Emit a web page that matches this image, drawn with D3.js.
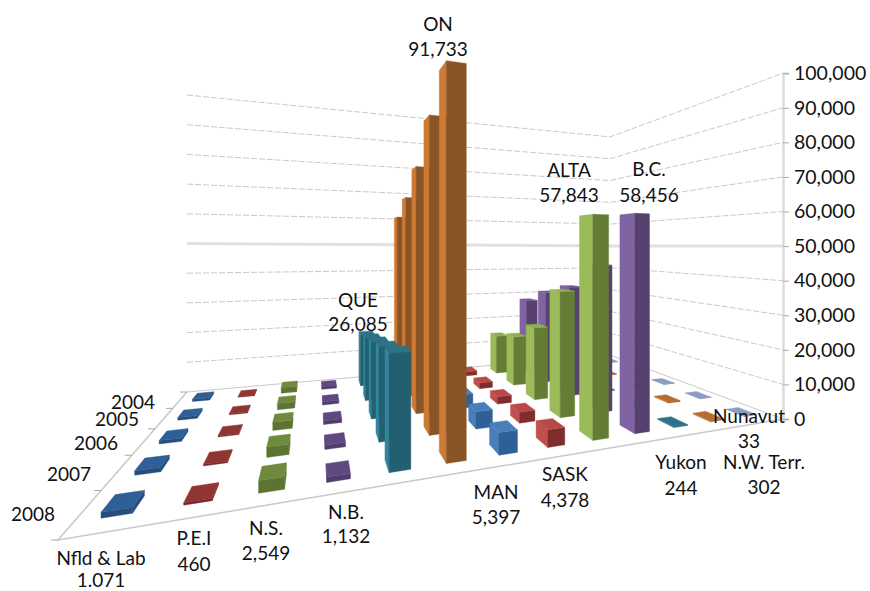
<!DOCTYPE html>
<html><head><meta charset="utf-8">
<script src="https://d3js.org/d3.v7.min.js"></script>
<style>html,body{margin:0;background:#fff}svg{display:block}text{font-family:Lato,"Open Sans",sans-serif;fill:#111}</style>
</head><body><svg id="c" width="870" height="591"></svg>
<script>
const categories=["Nfld & Lab","P.E.I","N.S.","N.B.","QUE","ON","MAN","SASK","ALTA","B.C.","Yukon","N.W. Terr.","Nunavut"];
const years=["2004","2005","2006","2007","2008"];
const v2004=[700,250,1900,1000,18000,60000,3400,1550,14400,27800,150,180,20];
const v2005=[750,300,1900,1000,20000,65500,3700,2000,17200,32600,170,200,22];
const v2006=[850,350,2200,1050,22000,73000,4100,2300,23200,36000,190,230,25];
const v2007=[950,400,2400,1100,24000,83800,4700,3100,36500,44000,220,270,28];
const v2008=[1071,460,2549,1132,26085,91733,5397,4378,57843,58456,244,302,33];
const series=[v2004,v2005,v2006,v2007,v2008];
const valueTicks=[0,10000,20000,30000,40000,50000,60000,70000,80000,90000,100000];
const labelLines=[["Nfld & Lab","1.071"],["P.E.I","460"],["N.S.","2,549"],["N.B.","1,132"],["QUE","26,085"],["ON","91,733"],["MAN","5,397"],["SASK","4,378"],["ALTA","57,843"],["B.C.","58,456"],["Yukon","244"],["N.W. Terr.","302"],["Nunavut","33"]];
const palette={
 blueD:{light:"#2f5f96",top:"#2f5f96",front:"#264d7c"},
 redD:{light:"#8f3432",top:"#8f3432",front:"#752c2b"},
 greenD:{light:"#6f8a3c",top:"#6f8a3c",front:"#5c7330"},
 purpleD:{light:"#5f4a80",top:"#5f4a80",front:"#4f3d6c"},
 teal:{light:"#31859c",top:"#2e7288",front:"#245f70"},
 orange:{light:"#cd7a33",top:"#b56e30",front:"#8a5526"},
 blue:{light:"#4a7ebb",top:"#4a7ebb",front:"#2f5f96"},
 red:{light:"#c0504d",top:"#b94a48",front:"#7f2f2e"},
 green:{light:"#9bbb59",top:"#8fb050",front:"#647d36"},
 purple:{light:"#8064a2",top:"#75599a",front:"#54406e"},
 slate:{light:"#8a9cc0",top:"#8a9cc0",front:"#7286ad"}
};
const catColors=["blueD","redD","greenD","purpleD","teal","orange","blue","red","green","purple","teal","orange","slate"];

// floor corners on the page: back-left, back-right, front-right, front-left
const B=[187,392],C=[610,355],D=[783,419],A=[58,540];
const det=(p,q)=>p[0]*q[1]-p[1]*q[0];
const d1=[C[0]-D[0],C[1]-D[1]],d2=[A[0]-D[0],A[1]-D[1]],s=[B[0]-C[0]+D[0]-A[0],B[1]-C[1]+D[1]-A[1]];
const g=det(s,d2)/det(d1,d2),h=det(d1,s)/det(d1,d2);
const m=[C[0]-B[0]+g*C[0],A[0]-B[0]+h*A[0],C[1]-B[1]+g*C[1],A[1]-B[1]+h*A[1]];

const uScale=d3.scaleBand(categories,[0,1]).paddingInner(.63).paddingOuter(.315);
const vScale=d3.scaleBand(years,[0,1]).paddingInner(.62).paddingOuter(.31);
const hScale=d3.scaleLinear([0,100000],[0,297]);
const project=(u,v,val)=>{const w=1+g*u+h*v;return [(m[0]*u+m[1]*v+B[0])/w,(m[2]*u+m[3]*v+B[1])/w-hScale(val)/w];};
const depth=(u,v)=>1+g*u+h*v;

const svg=d3.select("#c");
svg.append("defs").append("filter").attr("id","soft").append("feGaussianBlur").attr("stdDeviation",.45);
const path=d3.line();
const poly=pts=>path(pts)+"Z";
const visible=pts=>d3.polygonArea(pts)<0;

// walls
const walls=svg.append("g").attr("fill","none");
valueTicks.forEach(t=>{
 const pts=[project(0,0,t),project(1,0,t),project(1,1,t)];
 walls.append("path").attr("d",path(pts))
  .attr("stroke",t===50000?"#e0e0e0":"#cdc8c8").attr("stroke-width",t===50000?3:1)
  .attr("stroke-dasharray",t===50000||t===0?null:"6 2");
});
walls.append("path").attr("d",path([project(0,0,0),project(0,1,0),project(1,1,0)])).attr("stroke","#c8c8c8").attr("stroke-width",1.5);

// value axis
const yAxis=d3.scaleLinear([0,100000],[project(1,1,0)[1],project(1,1,100000)[1]]);
const ax=svg.append("g").attr("transform",`translate(${D[0]},0)`).call(d3.axisRight(yAxis).tickValues(valueTicks).tickFormat(d3.format(",")).tickSize(6).tickPadding(5));
ax.select(".domain").attr("stroke","#dcdcdc").attr("stroke-width",2.5);
ax.selectAll(".tick line").attr("stroke","#a8a8a8");
ax.selectAll("text").attr("font-size",19.5).attr("font-family",'Lato,"Open Sans",sans-serif').attr("fill","#111");

// year ticks and labels
const yearEdge=years.map((y,i)=>(i)/years.length).concat([1]);
yearEdge.forEach(v=>{const p=project(0,v,0);svg.append("line").attr("x1",p[0]-7).attr("x2",p[0]).attr("y1",p[1]).attr("y2",p[1]).attr("stroke","#a8a8a8");});
const yearLabelAt=[[133,401],[117,418],[96,442],[69,473],[33,513]];
years.forEach((y,i)=>svg.append("text").attr("x",yearLabelAt[i][0]).attr("y",yearLabelAt[i][1]).attr("text-anchor","middle").attr("dominant-baseline","central").attr("font-size",19).text(y));

// bars, painted far to near
const bars=[];
series.forEach((row,j)=>row.forEach((val,i)=>{
 const u0=uScale(categories[i]),u1=u0+uScale.bandwidth(),v0=vScale(years[j]),v1=v0+vScale.bandwidth();
 bars.push({i,j,val,u0,u1,v0,v1,d:depth((u0+u1)/2,(v0+v1)/2)});
}));
bars.sort((a,b)=>d3.descending(a.d,b.d));
const gBars=svg.append("g").attr("filter","url(#soft)");
bars.forEach(b=>{
 const c=palette[catColors[b.i]];
 const P=(u,v,t)=>project(u,v,t?b.val:0);
 const left=[P(b.u0,b.v1,0),P(b.u0,b.v0,0),P(b.u0,b.v0,1),P(b.u0,b.v1,1)];
 const right=[P(b.u1,b.v0,0),P(b.u1,b.v1,0),P(b.u1,b.v1,1),P(b.u1,b.v0,1)];
 const front=[P(b.u1,b.v1,0),P(b.u0,b.v1,0),P(b.u0,b.v1,1),P(b.u1,b.v1,1)];
 const top=[P(b.u0,b.v1,1),P(b.u0,b.v0,1),P(b.u1,b.v0,1),P(b.u1,b.v1,1)];
 const gb=gBars.append("g").attr("stroke-width",.4);
 [[left,c.light],[right,c.front],[front,c.front],[top,c.top]].forEach(([f,col])=>{
   if(visible(f)) gb.append("path").attr("d",poly(f)).attr("fill",col).attr("stroke",col);
 });
});

// data labels
const labelAt=[[101,557,579],[194,537,563],[266,527,552],[346,511,535],[358,299,323],[438,23,48],[496,491,516],[565,473,499],[569,169,194],[649,168,194],[681,461,487],[764,461,486],[749,415,440]];
labelLines.forEach((l,i)=>{
 [0,1].forEach(k=>svg.append("text").attr("x",labelAt[i][0]).attr("y",labelAt[i][k+1]).attr("text-anchor","middle").attr("dominant-baseline","central").attr("font-size",19).text(l[k]));
});
</script></body></html>
